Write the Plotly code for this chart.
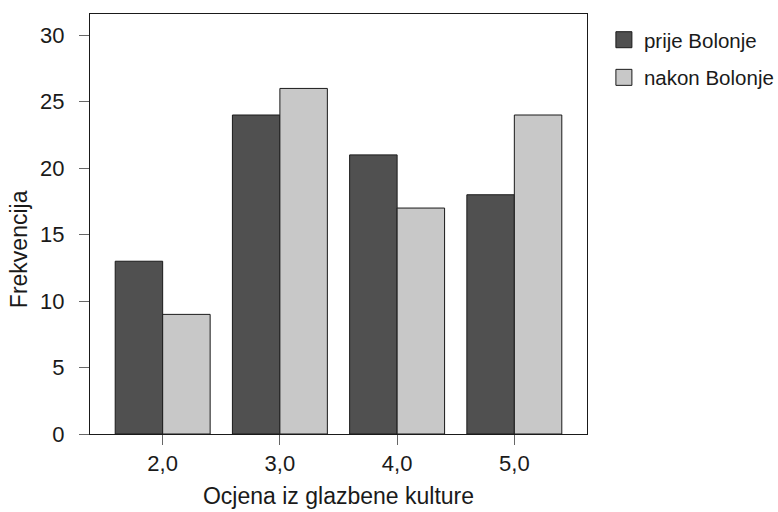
import plotly.graph_objects as go

categories = ["2,0", "3,0", "4,0", "5,0"]
prije = [13, 24, 21, 18]
nakon = [9, 26, 17, 24]
series_names = ["prije Bolonje", "nakon Bolonje"]
colors = ["#505050", "#c8c8c8"]
y_ticks = [0, 5, 10, 15, 20, 25, 30]

FONT = "Liberation Sans, Arial, sans-serif"
EDGE = "#1a1a1a"

fig = go.Figure()
for name, vals, col in zip(series_names, [prije, nakon], colors):
    fig.add_trace(go.Bar(
        x=categories, y=vals, name=name, showlegend=False,
        marker=dict(color=col, line=dict(color=EDGE, width=1)),
    ))
# legend entries with larger square swatches
for name, col, grp in zip(series_names, colors, ["a", "b"]):
    fig.add_trace(go.Scatter(
        x=[None], y=[None], mode="markers", name=name, legendgroup=grp,
        marker=dict(symbol="square", size=24, color=col, line=dict(color=EDGE, width=1)),
    ))

fig.update_layout(
    width=778, height=512,
    margin=dict(l=90, r=191, t=14, b=78, autoexpand=False),
    paper_bgcolor="white", plot_bgcolor="white",
    barmode="group", bargap=0.19, bargroupgap=0,
    font=dict(family=FONT, size=22, color=EDGE),
    showlegend=True,
    legend=dict(x=1.034, xanchor="left", y=0.986, yanchor="top",
                font=dict(size=20.5, color=EDGE),
                tracegroupgap=8, itemsizing="trace",
                bgcolor="rgba(0,0,0,0)"),
    xaxis=dict(
        title=dict(text="Ocjena iz glazbene kulture", font=dict(size=23), standoff=12),
        range=[-0.62, 3.62],
        showline=True, linecolor=EDGE, linewidth=1, mirror=True,
        ticks="outside", ticklen=10, tickcolor="#666666", tickwidth=1,
        showgrid=False, zeroline=False,
        tickfont=dict(size=22),
    ),
    yaxis=dict(
        range=[0, 31.6],
        tickvals=y_ticks,
        showline=True, linecolor=EDGE, linewidth=1, mirror=True,
        ticks="outside", ticklen=10, tickcolor="#666666", tickwidth=1,
        showgrid=False, zeroline=False,
        tickfont=dict(size=22),
        ticklabelstandoff=10,
    ),
    annotations=[dict(
        text="Frekvencija", textangle=-90, showarrow=False,
        xref="paper", yref="paper", x=-0.143, y=0.44,
        xanchor="center", yanchor="middle",
        font=dict(size=23, color=EDGE),
    )],
)

fig.write_html("out.html", config={"displayModeBar": False},
               post_script="document.body.style.margin='0';")
